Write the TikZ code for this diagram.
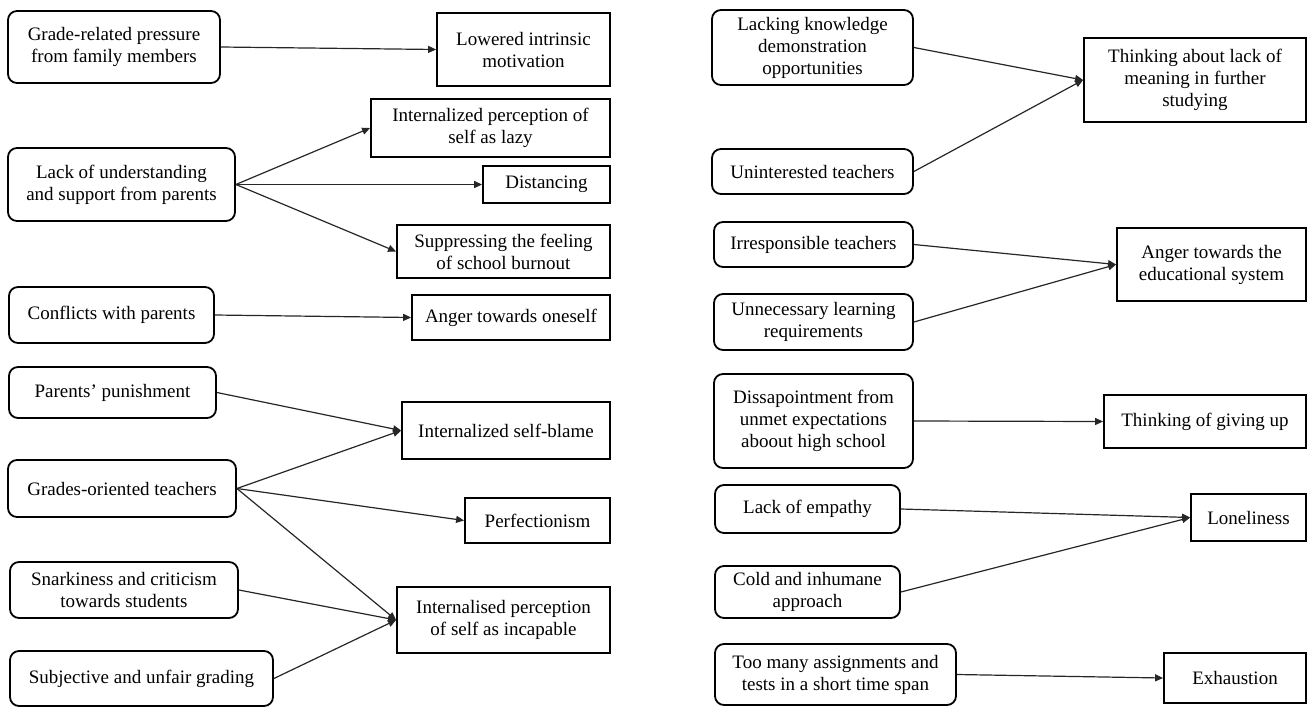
\documentclass[tikz,border=0pt]{standalone}
\usepackage{fontspec}
\setmainfont{Liberation Serif}
\usetikzlibrary{arrows.meta}
\begin{document}
\begin{tikzpicture}[x=1pt,y=-1pt,
  box/.style={draw=black, line width=1.8pt, align=center, inner sep=0pt,
    font={\fontsize{19}{22}\selectfont}, text=black},
  src/.style={box, rounded corners=9pt},
  tgt/.style={box},
  arr/.style={draw=black!85, line width=1.2pt, -{Triangle[length=8pt,width=7pt]}}]
\useasboundingbox (0,0) rectangle (1309,707);
% left sources
\node[src, minimum width=212pt, minimum height=72pt] (A1) at (114,47) {Grade-related pressure\\from family members};
\node[src, minimum width=227pt, minimum height=73pt] (A2) at (121.5,184.5) {Lack of understanding\\and support from parents};
\node[src, minimum width=205pt, minimum height=56pt] (A3) at (111.5,315) {Conflicts with parents};
\node[src, minimum width=207pt, minimum height=51pt] (A4) at (112.5,392.5) {Parents’ punishment};
\node[src, minimum width=228pt, minimum height=57pt] (A5) at (122,488.5) {Grades-oriented teachers};
\node[src, minimum width=228pt, minimum height=56pt] (A6) at (124,590) {Snarkiness and criticism\\towards students};
\node[src, minimum width=263pt, minimum height=55pt] (A7) at (141.5,678.5) {Subjective and unfair grading};
% left targets
\node[tgt, minimum width=173pt, minimum height=73pt] (B1) at (523.5,49.5) {Lowered intrinsic\\motivation};
\node[tgt, minimum width=239pt, minimum height=58pt] (B2) at (490.5,128) {Internalized perception of\\self as lazy};
\node[tgt, minimum width=127pt, minimum height=37pt] (B3) at (546.5,184.5) {Distancing};
\node[tgt, minimum width=213pt, minimum height=53pt] (B4) at (503.5,251.5) {Suppressing the feeling\\of school burnout};
\node[tgt, minimum width=198pt, minimum height=45pt] (B5) at (511,317.5) {Anger towards oneself};
\node[tgt, minimum width=208pt, minimum height=57pt] (B6) at (506,430.5) {Internalized self-blame};
\node[tgt, minimum width=145pt, minimum height=45pt] (B7) at (537.5,520.5) {Perfectionism};
\node[tgt, minimum width=213pt, minimum height=66pt] (B8) at (503.5,620) {Internalised perception\\of self as incapable};
% right sources
\node[src, minimum width=201pt, minimum height=75pt] (C1) at (812.5,47.5) {Lacking knowledge\\demonstration\\opportunities};
\node[src, minimum width=201pt, minimum height=45pt] (C2) at (812.5,171.5) {Uninterested teachers};
\node[src, minimum width=199pt, minimum height=45pt] (C3) at (813.5,244.5) {Irresponsible teachers};
\node[src, minimum width=199pt, minimum height=56pt] (C4) at (813.5,322) {Unnecessary learning\\requirements};
\node[src, minimum width=199pt, minimum height=94pt] (C5) at (813.5,421) {Dissapointment from\\unmet expectations\\aboout high school};
\node[src, minimum width=185pt, minimum height=48pt] (C6) at (807.5,509) {Lack of empathy};
\node[src, minimum width=185pt, minimum height=52pt] (C7) at (807.5,592) {Cold and inhumane\\approach};
\node[src, minimum width=241pt, minimum height=61pt] (C8) at (835.5,674.5) {Too many assignments and\\tests in a short time span};
% right targets
\node[tgt, minimum width=222pt, minimum height=84pt] (D1) at (1195,80) {Thinking about lack of\\meaning in further\\studying};
\node[tgt, minimum width=189pt, minimum height=73pt] (D2) at (1211.5,264.5) {Anger towards the\\educational system};
\node[tgt, minimum width=202pt, minimum height=53pt] (D3) at (1205,421.5) {Thinking of giving up};
\node[tgt, minimum width=115pt, minimum height=47pt] (D4) at (1248.5,517.5) {Loneliness};
\node[tgt, minimum width=142pt, minimum height=50pt] (D5) at (1235,678) {Exhaustion};
% connectors left
\draw[arr] (A1.east) -- (B1.west);
\draw[arr] (A2.east) -- (B2.west);
\draw[arr] (A2.east) -- (B3.west);
\draw[arr] (A2.east) -- (B4.west);
\draw[arr] (A3.east) -- (B5.west);
\draw[arr] (A4.east) -- (B6.west);
\draw[arr] (A5.east) -- (B6.west);
\draw[arr] (A5.east) -- (B7.west);
\draw[arr] (A5.east) -- (B8.west);
\draw[arr] (A6.east) -- (B8.west);
\draw[arr] (A7.east) -- (B8.west);
% connectors right
\draw[arr] (C1.east) -- (D1.west);
\draw[arr] (C2.east) -- (D1.west);
\draw[arr] (C3.east) -- (D2.west);
\draw[arr] (C4.east) -- (D2.west);
\draw[arr] (C5.east) -- (D3.west);
\draw[arr] (C6.east) -- (D4.west);
\draw[arr] (C7.east) -- (D4.west);
\draw[arr] (C8.east) -- (D5.west);
\end{tikzpicture}
\end{document}
